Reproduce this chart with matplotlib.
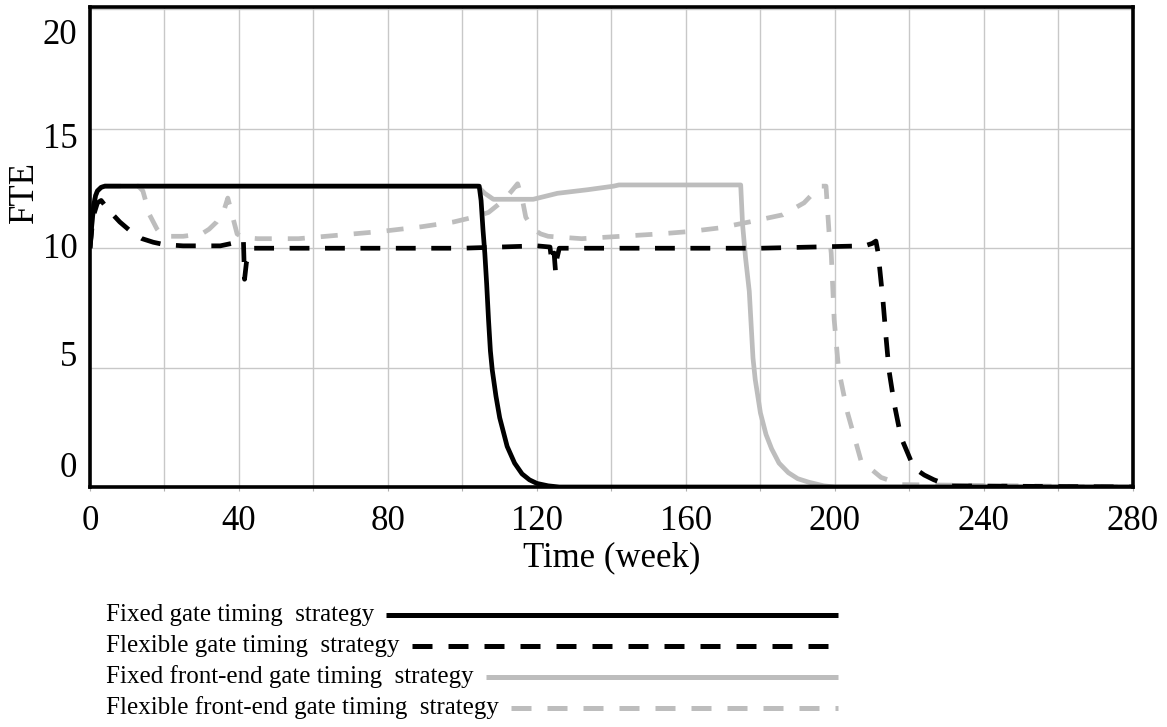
import matplotlib
matplotlib.use("Agg")
from matplotlib import pyplot as plt
from matplotlib.lines import Line2D

plt.rcParams['font.family'] = ['Liberation Serif', 'DejaVu Serif']

# Fixed gate timing strategy
fixed_t = [0, 0.5, 1, 1.5, 2, 3, 4, 104.5, 105, 105.5, 106, 106.5, 107, 107.5,
           108, 109, 110, 112, 114, 116, 118, 120, 123, 126, 280]
fixed_v = [10.0, 11.0, 11.8, 12.2, 12.4, 12.55, 12.6, 12.6, 12.0, 10.8, 9.8, 8.5, 7.0, 5.7,
           4.9, 3.8, 2.9, 1.7, 1.0, 0.55, 0.3, 0.15, 0.05, 0, 0]

# Flexible gate timing strategy
flex_t = [0, 0.5, 1, 2, 3, 5, 8, 11, 14, 17, 20, 25, 30, 35, 38, 40, 41.2, 41.5, 42, 43, 44,
          50, 100, 120, 123.5, 124, 124.6, 125, 125.4, 126, 130, 180, 208, 210, 211, 211.6,
          212.9, 213.7, 214.5, 215.9, 217.7, 221.2, 224, 226.6, 231, 280]
flex_v = [10.0, 10.8, 11.4, 11.9, 12.0, 11.6, 11.1, 10.7, 10.4, 10.25, 10.15, 10.1, 10.1, 10.1,
          10.2, 10.4, 10.3, 8.7, 9.4, 9.85, 10.0,
          10.0, 10.0, 10.1, 10.05, 9.4, 9.8, 9.0, 9.6, 10.0, 10.0, 10.0, 10.1, 10.2, 10.3, 9.8,
          7.8, 6.3, 4.9, 3.5, 2.1, 0.8, 0.5, 0.3, 0.05, 0]

# Fixed front-end gate timing strategy
front_t = [0, 0.5, 1, 1.5, 2, 3, 4, 104, 106, 108.3, 111, 119, 125.5, 133.6, 140.6, 142,
           174.7, 175.2, 176, 177, 177.5, 178, 178.6, 180, 181.5, 183, 185, 187.5, 190, 193,
           197, 200, 280]
front_v = [10.0, 11.0, 11.8, 12.2, 12.4, 12.55, 12.6, 12.6, 12.3, 12.05, 12.05, 12.05, 12.3,
           12.45, 12.6, 12.65,
           12.65, 11.0, 9.6, 8.2, 6.8, 5.4, 4.5, 3.1, 2.2, 1.6, 1.0, 0.6, 0.35, 0.2,
           0.05, 0, 0]

# Flexible front-end gate timing strategy
ffront_t = [0, 0.5, 1, 1.5, 2, 3, 4, 13, 14.2, 16, 18, 19, 20, 25, 30, 32, 34, 36, 37, 38,
            39.5, 41, 45, 56, 78, 89, 97.6, 103, 107, 109.4, 111.6, 113.5, 114.8, 116, 117,
            119, 121, 123, 132, 142.5, 153, 161, 169, 177, 186, 191.7, 196, 197.6, 198.4, 199,
            199.8, 201, 203.4, 207, 212.4, 218, 280]
ffront_v = [10.0, 11.0, 11.8, 12.2, 12.4, 12.55, 12.6, 12.6, 12.4, 11.4, 10.8, 10.6, 10.5,
            10.5, 10.6, 10.8, 11.1, 11.6, 12.1, 11.5,
            10.6, 10.45, 10.4, 10.4, 10.7, 10.9, 11.1, 11.3, 11.5, 11.8, 12.1, 12.45, 12.7,
            12.1, 11.3,
            10.8, 10.6, 10.5, 10.4, 10.5, 10.6, 10.7, 10.85, 11.1, 11.4, 11.9, 12.6, 12.6,
            10.7, 9.8,
            7.0, 4.9, 3.1, 1.1, 0.4, 0.1, 0]

labels = ["Fixed gate timing  strategy",
          "Flexible gate timing  strategy",
          "Fixed front-end gate timing  strategy",
          "Flexible front-end gate timing  strategy"]

y_ticks = [0, 5, 10, 15, 20]
# Vensim puts the y labels slightly off the grid lines
y_label_pos = [0.79, 5.41, 9.94, 14.55, 18.92]

GRAY = '#bdbdbd'
LW = 3.4
black_dash = (0, (4.2, 3.3))
gray_dash = (0, (3.6, 3.4))

fig = plt.figure(figsize=(11.67, 7.27), dpi=100)
ax = fig.add_axes([0.0771, 0.3301, 0.8937, 0.6602])

ax.plot(front_t, front_v, color=GRAY, lw=LW, solid_capstyle='butt')
ax.plot(ffront_t, ffront_v, color=GRAY, lw=LW, ls=gray_dash, dash_capstyle='butt')
ax.plot(flex_t, flex_v, color='black', lw=LW, ls=black_dash, dash_capstyle='butt')
ax.plot(fixed_t, fixed_v, color='black', lw=LW, solid_capstyle='butt')

ax.set_xlim(0, 280)
ax.set_ylim(0, 20.1)
ax.set_xticks(range(0, 281, 40))
ax.set_xticks(range(20, 280, 40), minor=True)
ax.set_yticks(y_ticks)
ax.set_yticklabels([])
for v, yp in zip(y_ticks, y_label_pos):
    ax.text(-0.012, yp, str(v), transform=ax.get_yaxis_transform(),
            ha='right', va='center', fontsize=25)
ax.grid(True, which='both', color='#c8c8c8', lw=1)
ax.set_axisbelow(True)

ax.tick_params(axis='x', which='both', length=3, width=0.8, color='#b0b0b0',
               labelsize=25, pad=10)
ax.tick_params(axis='y', length=0)
for s in ax.spines.values():
    s.set_linewidth(2.6)
    s.set_zorder(5)

ax.set_xlabel("Time (week)", fontsize=25, labelpad=2)
ax.set_ylabel("FTE", fontsize=25)
ax.yaxis.set_label_coords(-0.047, 0.615)

# legend, drawn Vensim style: text then a line out to a common right edge
styles = [dict(color='black', ls='-'),
          dict(color='black', ls=(0, (4.0, 3.2))),
          dict(color=GRAY, ls='-'),
          dict(color=GRAY, ls=(0, (4.0, 3.2)))]
rows = [615, 646, 677, 708]
W, H = 1167, 727
fig.canvas.draw()
r = fig.canvas.get_renderer()
for lab, st, yp in zip(labels, styles, rows):
    t = fig.text(106 / W, 1 - yp / H, lab, fontsize=18, va='center', ha='left')
    bb = t.get_window_extent(renderer=r)
    x0 = (bb.x1 + 12) / W
    fig.add_artist(Line2D([x0, 838 / W], [1 - yp / H, 1 - yp / H], lw=3.6,
                          transform=fig.transFigure, dash_capstyle='butt',
                          solid_capstyle='butt', **st))

fig.savefig("out.png", dpi=100)
